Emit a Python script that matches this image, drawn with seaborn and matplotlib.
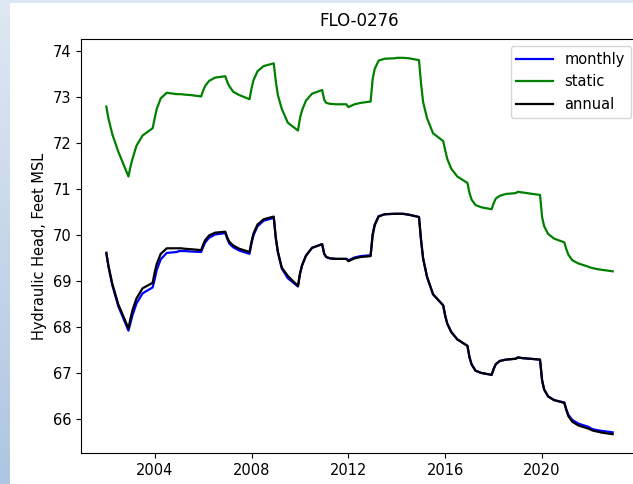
import numpy as np
import pandas as pd
import matplotlib
matplotlib.use("Agg")
import matplotlib.pyplot as plt
import matplotlib.patches as mpatches
import seaborn as sns

# Sample dates: January, February, April, July and December of each year
years = list(range(2002, 2023))
months = ["01", "02", "04", "07", "12"]
dates = pd.to_datetime([f"{y}-{m}-01" for y in years for m in months])

# Simulated hydraulic head (feet MSL), five samples per year
static = [
    72.80, 72.55, 72.20, 71.82, 71.28,   # 2002
    71.50, 71.67, 71.95, 72.17, 72.33,   # 2003
    72.55, 72.75, 72.98, 73.10, 73.07,   # 2004
    73.07, 73.07, 73.06, 73.05, 73.02,   # 2005
    73.15, 73.25, 73.36, 73.43, 73.46,   # 2006
    73.33, 73.24, 73.12, 73.05, 72.96,   # 2007
    73.20, 73.38, 73.57, 73.68, 73.74,   # 2008
    73.35, 73.05, 72.75, 72.45, 72.28,   # 2009
    72.55, 72.72, 72.93, 73.08, 73.16,   # 2010
    72.95, 72.88, 72.86, 72.85, 72.85,   # 2011
    72.79, 72.81, 72.85, 72.88, 72.91,   # 2012
    73.40, 73.62, 73.80, 73.84, 73.85,   # 2013
    73.86, 73.86, 73.86, 73.85, 73.81,   # 2014
    73.30, 72.90, 72.55, 72.22, 72.05,   # 2015
    71.85, 71.66, 71.45, 71.28, 71.14,   # 2016
    70.92, 70.78, 70.66, 70.61, 70.57,   # 2017
    70.70, 70.80, 70.86, 70.90, 70.92,   # 2018
    70.95, 70.94, 70.93, 70.91, 70.88,   # 2019
    70.40, 70.20, 70.03, 69.93, 69.85,   # 2020
    69.70, 69.58, 69.46, 69.39, 69.32,   # 2021
    69.30, 69.29, 69.27, 69.25, 69.22,   # 2022
]

annual = [
    69.62, 69.35, 68.95, 68.50, 67.98,   # 2002
    68.20, 68.38, 68.63, 68.85, 68.97,   # 2003
    69.20, 69.38, 69.60, 69.72, 69.72,   # 2004
    69.72, 69.72, 69.71, 69.70, 69.68,   # 2005
    69.80, 69.90, 70.00, 70.06, 70.08,   # 2006
    69.95, 69.86, 69.78, 69.71, 69.64,   # 2007
    69.87, 70.05, 70.24, 70.35, 70.41,   # 2008
    69.95, 69.65, 69.30, 69.12, 68.90,   # 2009
    69.17, 69.35, 69.56, 69.73, 69.81,   # 2010
    69.60, 69.53, 69.50, 69.49, 69.49,   # 2011
    69.44, 69.46, 69.50, 69.53, 69.55,   # 2012
    70.00, 70.22, 70.41, 70.46, 70.47,   # 2013
    70.47, 70.47, 70.47, 70.45, 70.40,   # 2014
    69.90, 69.50, 69.10, 68.72, 68.48,   # 2015
    68.25, 68.08, 67.90, 67.74, 67.60,   # 2016
    67.35, 67.20, 67.06, 67.01, 66.97,   # 2017
    67.10, 67.20, 67.27, 67.30, 67.32,   # 2018
    67.35, 67.34, 67.33, 67.32, 67.30,   # 2019
    66.85, 66.65, 66.50, 66.42, 66.36,   # 2020
    66.20, 66.07, 65.95, 65.87, 65.80,   # 2021
    65.78, 65.76, 65.74, 65.71, 65.68,   # 2022
]

monthly = [
    69.62, 69.33, 68.92, 68.46, 67.93,   # 2002
    68.10, 68.27, 68.52, 68.74, 68.87,   # 2003
    69.05, 69.25, 69.48, 69.62, 69.64,   # 2004
    69.66, 69.66, 69.66, 69.65, 69.64,   # 2005
    69.75, 69.85, 69.95, 70.02, 70.05,   # 2006
    69.92, 69.82, 69.74, 69.67, 69.60,   # 2007
    69.83, 70.01, 70.20, 70.32, 70.38,   # 2008
    69.93, 69.63, 69.28, 69.07, 68.89,   # 2009
    69.17, 69.35, 69.56, 69.73, 69.81,   # 2010
    69.60, 69.53, 69.50, 69.49, 69.49,   # 2011
    69.46, 69.48, 69.52, 69.55, 69.57,   # 2012
    70.03, 70.24, 70.42, 70.46, 70.47,   # 2013
    70.47, 70.47, 70.47, 70.45, 70.40,   # 2014
    69.90, 69.50, 69.10, 68.72, 68.48,   # 2015
    68.25, 68.08, 67.90, 67.74, 67.60,   # 2016
    67.35, 67.20, 67.06, 67.01, 66.97,   # 2017
    67.10, 67.20, 67.27, 67.30, 67.32,   # 2018
    67.35, 67.34, 67.33, 67.32, 67.30,   # 2019
    66.85, 66.65, 66.50, 66.42, 66.37,   # 2020
    66.22, 66.10, 65.99, 65.91, 65.84,   # 2021
    65.81, 65.79, 65.77, 65.75, 65.72,   # 2022
]

series_names = ["monthly", "static", "annual"]
series_colors = {"monthly": "blue", "static": "green", "annual": "black"}

df = pd.concat(
    [
        pd.DataFrame({"date": dates, "head": vals, "series": name})
        for name, vals in zip(series_names, [monthly, static, annual])
    ],
    ignore_index=True,
)

fig = plt.figure(figsize=(6.33, 4.84), dpi=100)

# Window frame: light strip along the top, shaded strip down the left side
fig.patches.append(
    mpatches.Rectangle((0, 1 - 3 / 484), 1, 3 / 484, transform=fig.transFigure,
                       facecolor="#dde7f3", edgecolor="none", zorder=0)
)
side = fig.add_axes([0, 0, 10 / 633, 1])
grad = np.linspace(0, 1, 256).reshape(-1, 1)
side.imshow(grad, aspect="auto", extent=[0, 1, 0, 1], origin="upper",
            cmap=matplotlib.colors.LinearSegmentedColormap.from_list(
                "frame", ["#dfe8f4", "#aec6e2"]))
side.set_axis_off()

ax = fig.add_axes([81 / 633, 31 / 484, 557 / 633, 414 / 484])
sns.lineplot(data=df, x="date", y="head", hue="series", hue_order=series_names,
             palette=series_colors, linewidth=1.6, ax=ax)

ax.set_title("FLO-0276", fontsize=12, pad=9)
ax.set_xlabel("")
ax.set_ylabel("Hydraulic Head, Feet MSL", fontsize=10.5)
ax.tick_params(labelsize=10.5)
ax.legend(loc="upper right", fontsize=10.5, title=None, handlelength=2.5)

fig.savefig("out.png", dpi=100)
